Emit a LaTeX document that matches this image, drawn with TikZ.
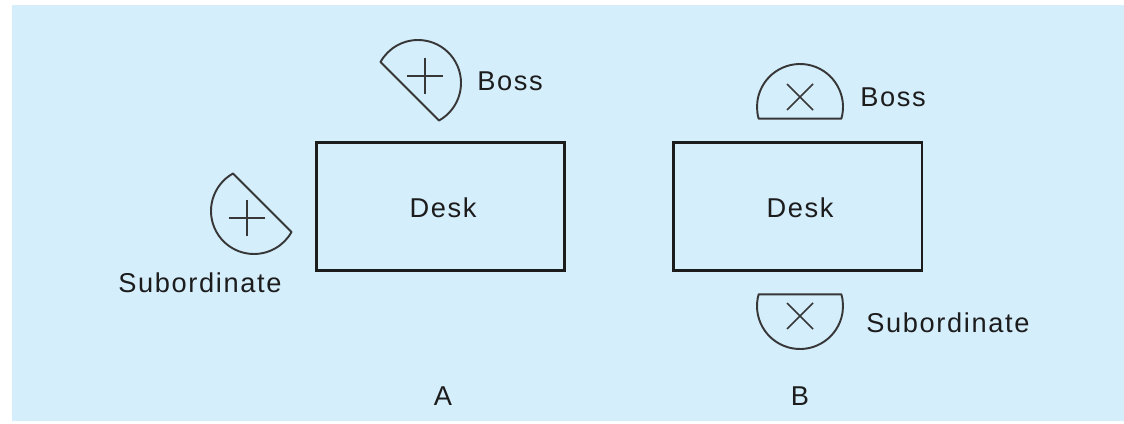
\documentclass[tikz,border=0pt]{standalone}
\usepackage{fontspec}
\setmainfont{Liberation Sans}[LetterSpace=6]
\definecolor{bgblue}{RGB}{213,238,252}
\definecolor{ink}{RGB}{28,28,28}
\definecolor{seatink}{RGB}{55,55,55}
\tikzset{
  desk/.style={draw=ink, line width=1.7pt, minimum width=4.98cm, minimum height=2.58cm, inner sep=0pt},
  lbl/.style={inner sep=0pt, text=ink, font=\fontsize{15.5}{18}\selectfont},
  seat/.style={draw=seatink, line width=1.1pt, line join=round},
  crossline/.style={draw=seatink, line width=0.9pt},
  % person seen from above: arc with flat back, cross on the head
  person/.pic={
    \path[seat] (-15.8:43) arc[start angle=-15.8, end angle=195.8, radius=43] -- cycle;
    \path[crossline] (-13,-3) -- (13,23) (-13,23) -- (13,-3);
  }
}
\begin{document}
\begin{tikzpicture}[x=0.02cm, y=0.02cm]
  % background
  \useasboundingbox (0,0) rectangle (1124,423);
  \fill[bgblue] (12,2) rectangle (1124,418);
  % A
  \node[desk] (deskA) at (440.5,216.5) {};
  \node[lbl] (deskAtxt) at (443,215) {Desk};
  \pic[rotate=-45] (bossA) at (418,340) {person};
  \node[lbl, anchor=west] (bossAtxt) at (477,342) {Boss};
  \pic[rotate=135] (subA) at (254,212) {person};
  \node[lbl] (subAtxt) at (200,140) {Subordinate};
  \node[lbl] (labA) at (443,27) {A};
  % B
  \node[desk] (deskB) at (797.5,216.5) {};
  \node[lbl] (deskBtxt) at (800,215) {Desk};
  \pic (bossB) at (800,316) {person};
  \node[lbl, anchor=west] (bossBtxt) at (860,326) {Boss};
  \pic[rotate=180] (subB) at (800,117) {person};
  \node[lbl, anchor=west] (subBtxt) at (866,100) {Subordinate};
  \node[lbl] (labB) at (800,27) {B};
\end{tikzpicture}
\end{document}
